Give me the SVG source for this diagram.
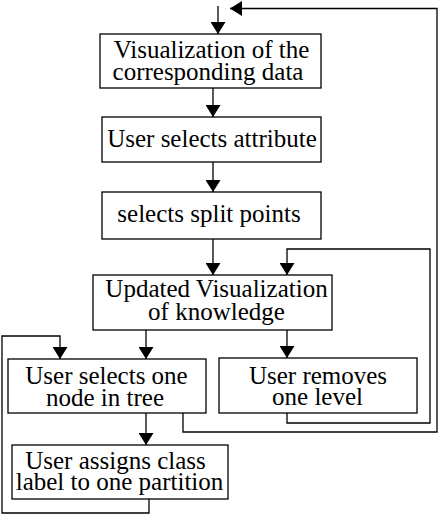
<svg xmlns="http://www.w3.org/2000/svg" width="444" height="515" viewBox="0 0 444 515">
<style>
rect{fill:#fff;stroke:#000;stroke-width:1.3}
text{font-family:"Liberation Serif","Times New Roman",serif;font-size:25px;fill:#000;text-anchor:middle}
.c{fill:none;stroke:#000;stroke-width:1.3}
</style>
<defs>
<marker id="ah" viewBox="0 0 12 15" refX="12" refY="7.5" markerWidth="12" markerHeight="15" markerUnits="userSpaceOnUse" orient="auto">
<path d="M0,0 L12,7.5 L0,15 z" fill="#000"/>
</marker>
</defs>
<rect width="444" height="515" fill="#fff" style="stroke:none"/>
<g id="connectors">
<path class="c" d="M218,6 L218,34" marker-end="url(#ah)"/>
<path class="c" d="M213,88 L213,117" marker-end="url(#ah)"/>
<path class="c" d="M213,162 L213,192" marker-end="url(#ah)"/>
<path class="c" d="M213,239 L213,275" marker-end="url(#ah)"/>
<path class="c" d="M146,330 L146,359" marker-end="url(#ah)"/>
<path class="c" d="M287,330 L287,358" marker-end="url(#ah)"/>
<path class="c" d="M146,413 L146,445" marker-end="url(#ah)"/>
<path class="c" d="M287,413 L287,423 L430,423 L430,249 L287,249 L287,275" marker-end="url(#ah)"/>
<path class="c" d="M183,413 L183,432 L437,432 L437,8.5 L230,8.5" marker-end="url(#ah)"/>
<path class="c" d="M149,499 L149,513 L2,513 L2,336 L60,336 L60,359" marker-end="url(#ah)"/>
</g>
<g id="n1">
<rect x="100" y="34" width="221" height="54"/>
<text x="211.5" y="58">Visualization of the</text>
<text x="208" y="80">corresponding data</text>
</g>
<g id="n2">
<rect x="102" y="117" width="219" height="45"/>
<text x="212" y="147">User selects attribute</text>
</g>
<g id="n3">
<rect x="102" y="192" width="219" height="47"/>
<text x="209" y="221.5">selects split points</text>
</g>
<g id="n4">
<rect x="93" y="275" width="239" height="55"/>
<text x="216.5" y="297">Updated Visualization</text>
<text x="216.5" y="319.5">of knowledge</text>
</g>
<g id="n5">
<rect x="8" y="359" width="198" height="54"/>
<text x="106.5" y="384">User selects one</text>
<text x="105" y="406">node in tree</text>
</g>
<g id="n6">
<rect x="219" y="358" width="198" height="55"/>
<text x="318" y="384">User removes</text>
<text x="317.5" y="404.5">one level</text>
</g>
<g id="n7">
<rect x="12" y="445" width="216" height="54"/>
<text x="115.5" y="468.5">User assigns class</text>
<text x="119.5" y="490">label to one partition</text>
</g>
</svg>
